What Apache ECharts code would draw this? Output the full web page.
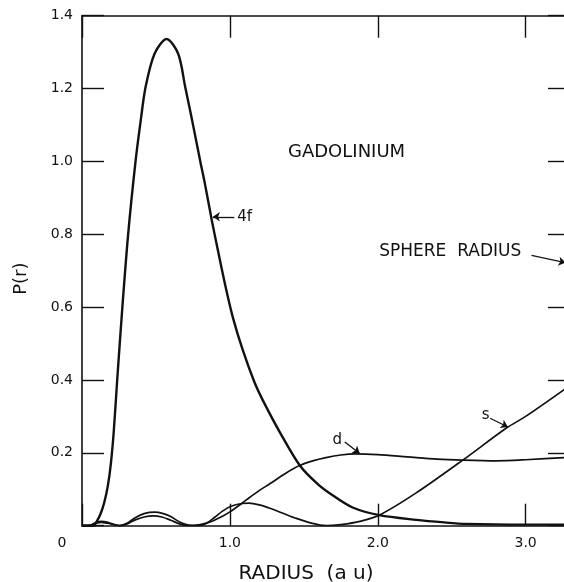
<!DOCTYPE html>
<html>
<head>
<meta charset="utf-8">
<script src="https://cdn.jsdelivr.net/npm/echarts@6/dist/echarts.min.js"></script>
<style>
html,body{margin:0;padding:0;background:#fff;}
#chart{width:564px;height:582px;}
</style>
</head>
<body>
<div id="chart"></div>
<script>
// Radial distributions P(r) for gadolinium
const r4f = [0, 0.075, 0.10, 0.125, 0.15, 0.175, 0.195, 0.215, 0.238, 0.273, 0.312, 0.362, 0.397, 0.43, 0.49, 0.572, 0.651, 0.698, 0.745, 0.800, 0.831, 0.878, 0.919, 0.966, 1.02, 1.088, 1.165, 1.223, 1.34, 1.477, 1.6, 1.70, 1.83, 2.01, 2.26, 2.45, 2.6, 3.0, 3.3];
const p4f = [0, 0, 0.012, 0.032, 0.063, 0.11, 0.17, 0.26, 0.4, 0.6, 0.8, 1.0, 1.112, 1.204, 1.295, 1.336, 1.295, 1.204, 1.112, 1.0, 0.939, 0.838, 0.756, 0.665, 0.572, 0.481, 0.395, 0.344, 0.255, 0.163, 0.112, 0.082, 0.05, 0.029, 0.016, 0.009, 0.005, 0.003, 0.003];

const rD = [0, 0.05, 0.09, 0.13, 0.17, 0.22, 0.26, 0.30, 0.36, 0.42, 0.48, 0.54, 0.60, 0.66, 0.72, 0.80, 0.88, 0.95, 1.0, 1.08, 1.135, 1.2, 1.27, 1.37, 1.47, 1.56, 1.65, 1.75, 1.85, 2.0, 2.2, 2.4, 2.575, 2.8, 3.0, 3.3];
const pD = [0, 0, 0.006, 0.009, 0.007, 0.003, 0, 0.004, 0.016, 0.024, 0.027, 0.024, 0.015, 0.005, 0, 0.003, 0.012, 0.026, 0.038, 0.061, 0.078, 0.097, 0.115, 0.142, 0.165, 0.178, 0.187, 0.194, 0.197, 0.195, 0.189, 0.183, 0.18, 0.178, 0.181, 0.188];

const rS = [0, 0.05, 0.09, 0.13, 0.17, 0.21, 0.25, 0.30, 0.36, 0.42, 0.49, 0.55, 0.60, 0.66, 0.72, 0.78, 0.84, 0.90, 0.95, 1.0, 1.08, 1.13, 1.2, 1.27, 1.36, 1.45, 1.55, 1.65, 1.75, 1.88, 2.02, 2.26, 2.575, 2.87, 3.0, 3.3];
const pS = [0, 0.001, 0.008, 0.012, 0.010, 0.004, 0, 0.006, 0.022, 0.033, 0.037, 0.033, 0.025, 0.010, 0.002, 0, 0.006, 0.024, 0.040, 0.052, 0.061, 0.062, 0.057, 0.048, 0.034, 0.020, 0.007, 0, 0.003, 0.012, 0.031, 0.090, 0.18, 0.268, 0.30, 0.385];

const xTicks = [0, 1, 2, 3];
const yTicks = [0.2, 0.4, 0.6, 0.8, 1.0, 1.2, 1.4];

// annotation texts and arrows (in data units)
const noteTexts = ['4f', 'd', 's', 'SPHERE  RADIUS'];
const noteR = [1.10, 1.726, 2.73, 2.49];
const noteP = [0.848, 0.235, 0.303, 0.752];
const arrowFrom = [[1.03, 0.848], [1.777, 0.230], [2.76, 0.295], [3.04, 0.742]];
const arrowTo = [[0.885, 0.848], [1.878, 0.198], [2.88, 0.271], [3.27, 0.722]];
const noteFontSize = [15, 15, 15, 17];

const toPairs = (xs, ys) => xs.map((x, i) => [x, ys[i]]);
const INK = '#111111';
const FONT = 'DejaVu Sans';

const chart = echarts.init(document.getElementById('chart'));
const xBase = {
  type: 'value', min: 0, max: 3.3, interval: 1,
  splitLine: {show: false},
  axisLine: {show: true, onZero: false, lineStyle: {color: INK, width: 1.6}},
  axisTick: {show: true, inside: true, length: 22, lineStyle: {color: INK, width: 1.4}}
};
const yBase = {
  type: 'value', min: 0, max: 1.4, interval: 0.2,
  splitLine: {show: false},
  axisLine: {show: true, onZero: false, lineStyle: {color: INK, width: 1.6}},
  axisTick: {show: true, inside: true, length: 22, lineStyle: {color: INK, width: 1.4}}
};
const lineSeries = (name, data, width) => ({
  type: 'line', name, data, showSymbol: false, symbol: 'none',
  smooth: 0.3, clip: true, silent: true,
  lineStyle: {color: INK, width}
});

chart.setOption({
  animation: false,
  backgroundColor: '#fff',
  textStyle: {fontFamily: FONT},
  title: {
    text: 'GADOLINIUM', left: 283, top: 138,
    textStyle: {fontFamily: FONT, fontSize: 18, fontWeight: 'normal', color: INK}
  },
  grid: {left: 82, width: 488, top: 15.7, height: 510, containLabel: false, outerBoundsMode: 'none'},
  xAxis: [
    Object.assign({}, xBase, {
      position: 'bottom',
      name: 'RADIUS  (a u)', nameLocation: 'middle', nameGap: 38,
      nameTextStyle: {fontFamily: FONT, fontSize: 20, color: INK, padding: [0, 40, 0, 0]},
      axisLabel: {
        show: true, margin: 11, fontSize: 14, color: INK, fontFamily: FONT,
        formatter: v => xTicks.includes(v) ? (v === 0 ? '{z|0}' : v.toFixed(1)) : '',
        rich: {z: {fontSize: 14, color: INK, fontFamily: FONT, padding: [0, 40, 0, 0]}}
      }
    }),
    Object.assign({}, xBase, {position: 'top', axisLabel: {show: false}})
  ],
  yAxis: [
    Object.assign({}, yBase, {
      position: 'left',
      name: 'P(r)', nameLocation: 'middle', nameGap: 52, nameRotate: 90,
      nameTextStyle: {fontFamily: FONT, fontSize: 18, color: INK, padding: [0, 0, 0, -16]},
      axisLabel: {
        show: true, margin: 9, fontSize: 14, color: INK, fontFamily: FONT,
        formatter: v => yTicks.some(t => Math.abs(t - v) < 1e-6) ? v.toFixed(1) : ''
      }
    }),
    Object.assign({}, yBase, {position: 'right', axisLabel: {show: false}})
  ],
  series: [
    lineSeries('4f', toPairs(r4f, p4f), 2.4),
    lineSeries('d', toPairs(rD, pD), 1.7),
    lineSeries('s', toPairs(rS, pS), 1.7),
    {
      type: 'scatter', name: 'notes', silent: true, symbolSize: 0,
      itemStyle: {color: INK, opacity: 1},
      data: noteTexts.map((t, i) => ({name: t, value: [noteR[i], noteP[i]], label: {fontSize: noteFontSize[i]}})),
      label: {show: true, position: 'inside', formatter: '{b}', color: INK, fontFamily: FONT, fontSize: 15,
              textBorderWidth: 0, textBorderColor: 'transparent'},
      markLine: {
        silent: true, symbol: ['none', 'arrow'], symbolSize: 7,
        label: {show: false},
        lineStyle: {color: INK, width: 1.3, type: 'solid', opacity: 1},
        data: arrowFrom.map((a, i) => [{coord: a}, {coord: arrowTo[i]}])
      }
    }
  ]
});
</script>
</body>
</html>
